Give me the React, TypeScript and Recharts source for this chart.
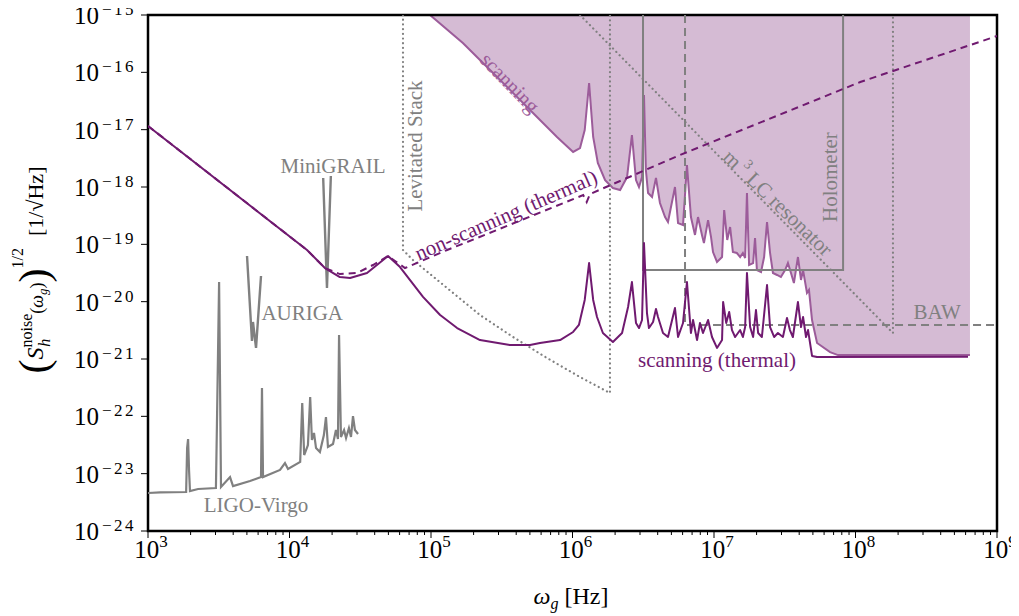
import React from 'react';
import { ComposedChart, Line, Area, XAxis, YAxis, ReferenceArea, ReferenceDot } from 'recharts';

const FONT = '"Liberation Serif", "DejaVu Serif", serif';
const GRAY = '#808080';
const DARK = '#701a70';
const SCAN = '#9c5c9a';
const SCAN_FILL = '#d5bbd4';

// [omega_g (Hz), strain noise (1/sqrt(Hz))]
const thermal = [
  [1e3, 1.16e-17], [1.33e4, 7.96e-20], [1.78e4, 3.86e-20], [2.27e4, 2.69e-20],
  [2.68e4, 2.59e-20], [3.53e4, 3.16e-20], [4.97e4, 6.25e-20], [6.04e4, 4.02e-20], [8.78e4, 1.21e-20],
  [1.16e5, 5.85e-21], [1.53e5, 3.47e-21], [2.22e5, 2.14e-21], [3.61e5, 1.75e-21], [5.01e5, 1.75e-21],
  [5.89e5, 1.9e-21], [8.17e5, 2.14e-21], [1.01e6, 2.96e-21], [1.11e6, 3.92e-21], [1.22e6, 1.07e-20],
  [1.31e6, 4.72e-20], [1.4e6, 1.07e-20], [1.49e6, 5.4e-21], [1.64e6, 2.84e-21], [1.93e6, 1.98e-21],
  [2.24e6, 2.84e-21], [2.47e6, 8.07e-21], [2.63e6, 2.2e-20], [2.81e6, 4.25e-21], [2.95e6, 3.47e-21],
  [3.1e6, 4.79e-21], [3.2e6, 1.05e-19], [3.36e6, 6.34e-21], [3.47e6, 3.47e-21], [3.71e6, 4.42e-21],
  [3.89e6, 7.45e-21], [4.02e6, 5.4e-21], [4.36e6, 2.84e-21], [4.73e6, 2.42e-21], [5.3e6, 7.75e-21],
  [5.57e6, 2.42e-21], [6.04e6, 4.25e-21], [6.44e6, 2.2e-20], [6.87e6, 2.84e-21], [7.11e6, 4.79e-21],
  [7.59e6, 2.14e-21], [7.96e6, 4.25e-21], [8.36e6, 2.84e-21], [9.08e6, 4.79e-21], [9.68e6, 2.42e-21],
  [1.05e7, 1.56e-21], [1.14e7, 2.14e-21], [1.16e7, 9.86e-21], [1.22e7, 4.25e-21], [1.28e7, 6.6e-21],
  [1.34e7, 3.2e-21], [1.41e7, 2.42e-21], [1.53e7, 3.2e-21], [1.6e7, 2.42e-21], [1.66e7, 3.61e-21],
  [1.71e7, 3.16e-20], [1.8e7, 3.61e-21], [1.89e7, 2.42e-21], [1.98e7, 7.15e-21], [2.05e7, 2.84e-21],
  [2.18e7, 2.42e-21], [2.37e7, 1.95e-20], [2.49e7, 3.61e-21], [2.66e7, 2.42e-21], [2.83e7, 2.84e-21],
  [3.07e7, 2.42e-21], [3.28e7, 5.19e-21], [3.44e7, 3.2e-21], [3.61e7, 2.42e-21], [3.92e7, 9.86e-21],
  [4.12e7, 3.61e-21], [4.26e7, 5.4e-21], [4.47e7, 2.42e-21], [4.62e7, 3.2e-21], [4.93e7, 1.13e-21],
  [5.35e7, 1.08e-21], [6.24e8, 1.1e-21],
];

const nonScanning = [
  [1e3, 1.16e-17], [1.33e4, 7.96e-20], [1.78e4, 3.86e-20], [2.27e4, 3.03e-20],
  [3.0e4, 3.16e-20], [3.89e4, 4.36e-20], [4.97e4, 6.25e-20], [6.55e4, 3.86e-20], [1.3e5, 7.96e-20],
  [2.93e5, 1.78e-19], [1.19e6, 7.24e-19], [1.26e6, 5.47e-19], [1.33e6, 7.55e-19], [5.75e6, 3.61e-18],
  [1.08e8, 6.78e-17], [1e9, 4.3e-16],
];

const scanning = [
  [9.84e4, 1e-15], [1.68e5, 3.25e-16], [2.93e5, 8.3e-17], [5.01e5, 2.2e-17], [7.77e5, 7.45e-18],
  [1.01e6, 4.08e-18], [1.13e6, 4.79e-18], [1.22e6, 9.86e-18], [1.31e6, 6.52e-17], [1.4e6, 7.45e-18],
  [1.51e6, 2.62e-18], [1.7e6, 1.32e-18], [1.93e6, 9.6e-19], [2.17e6, 8.85e-19], [2.43e6, 1.49e-18],
  [2.63e6, 8.07e-18], [2.81e6, 1.32e-18], [2.95e6, 1.0e-18], [3.1e6, 1.49e-18], [3.2e6, 4.03e-17],
  [3.3e6, 1.98e-18], [3.42e6, 7.85e-19], [3.65e6, 6.68e-19], [3.89e6, 1.44e-18], [4.15e6, 5.26e-19],
  [4.51e6, 2.99e-19], [4.73e6, 2.45e-19], [5.3e6, 1.0e-18], [5.57e6, 2.35e-19], [6.04e6, 2.17e-19],
  [6.44e6, 2.42e-18], [6.87e6, 2.99e-19], [7.34e6, 1.46e-19], [7.71e6, 2.99e-19], [8.22e6, 1.46e-19],
  [8.49e6, 1.05e-19], [9.08e6, 2.65e-19], [9.53e6, 1.34e-19], [9.84e6, 7.34e-20], [1.05e7, 4.92e-20],
  [1.14e7, 6.01e-20], [1.18e7, 3.97e-19], [1.24e7, 1.19e-19], [1.3e7, 2.0e-19], [1.36e7, 7.34e-20],
  [1.45e7, 7.06e-20], [1.53e7, 6.01e-20], [1.6e7, 7.06e-20], [1.66e7, 5.77e-20], [1.71e7, 7.85e-19],
  [1.77e7, 4.36e-20], [1.89e7, 4.72e-20], [1.95e7, 1.29e-19], [2.01e7, 3.56e-20], [2.15e7, 3.29e-20],
  [2.26e7, 6.01e-20], [2.37e7, 2.45e-19], [2.49e7, 7.06e-20], [2.61e7, 3.16e-20], [2.79e7, 2.92e-20],
  [2.97e7, 2.69e-20], [3.18e7, 3.56e-20], [3.33e7, 4.72e-20], [3.5e7, 3.16e-20], [3.67e7, 2.11e-20],
  [3.92e7, 6.01e-20], [4.12e7, 2.39e-20], [4.26e7, 3.56e-20], [4.54e7, 1.42e-20], [4.69e7, 1.6e-20],
  [4.93e7, 4.79e-21], [5.35e7, 1.9e-21], [6.61e7, 1.32e-21], [7.52e7, 1.17e-21], [6.44e8, 1.17e-21],
];

const ligoVirgo = [
  [1e3, 4.6e-24], [1.22e3, 4.7e-24], [1.86e3, 4.79e-24], [1.89e3, 2.8e-23], [1.92e3, 4.02e-23],
  [1.95e3, 1.16e-23], [1.98e3, 4.98e-24], [2.26e3, 5.4e-24], [3.02e3, 5.61e-24], [3.07e3, 7.05e-23],
  [3.18e3, 2.2e-20], [3.28e3, 5.85e-24], [3.8e3, 8.73e-24], [3.99e3, 6.08e-24], [5.26e3, 7.44e-24],
  [6.29e3, 8.73e-24], [6.39e3, 3.12e-22], [6.5e3, 8.73e-24], [8.57e3, 1.16e-23], [9.29e3, 1.53e-23],
  [9.76e3, 1.21e-23], [1.19e4, 1.6e-23], [1.23e4, 1.71e-22], [1.27e4, 2.11e-23], [1.35e4, 3.16e-23],
  [1.4e4, 2.17e-22], [1.44e4, 3.86e-23], [1.49e4, 5.12e-23], [1.54e4, 2.8e-23], [1.64e4, 2.39e-23],
  [1.75e4, 4.72e-23], [1.81e4, 9.72e-23], [1.87e4, 2.92e-23], [2.03e4, 3.29e-23], [2.13e4, 5.77e-23],
  [2.2e4, 4.02e-23], [2.24e4, 2.62e-21], [2.31e4, 4.36e-23], [2.43e4, 5.77e-23], [2.51e4, 4.19e-23],
  [2.63e4, 6.25e-23], [2.72e4, 4.36e-23], [2.81e4, 1.01e-22], [2.9e4, 5.77e-23], [3.05e4, 4.91e-23],
];

const auriga = [[5.01e3, 6.25e-20], [5.43e3, 2.06e-21], [5.52e3, 4.42e-21], [5.8e3, 1.56e-21], [6.29e3, 2.8e-20]];
const miniGrail = [[1.73e4, 1.44e-18], [1.84e4, 1.73e-20], [1.96e4, 1.56e-18]];

const levitated = [
  [6.34e4, 1e-15], [6.34e4, 7.96e-20], [7.46e4, 5.33e-20], [1.3e5, 1.73e-20], [2.22e5, 5.85e-21],
  [3.8e5, 2.42e-21], [6.61e5, 1.04e-21], [1.13e6, 4.85e-22], [1.84e6, 2.55e-22], [1.84e6, 1e-15],
];
const lcResonator = [[1.13e6, 1e-15], [1.84e8, 2.84e-21], [1.84e8, 1e-15]];
const holometer = [[3.15e6, 1e-15], [3.15e6, 3.56e-20], [8.17e7, 3.56e-20], [8.17e7, 1e-15]];
const baw = [[6.24e6, 1e-15], [6.24e6, 3.92e-21], [1e9, 3.92e-21]];

const xExponents = [3, 4, 5, 6, 7, 8, 9];
const yExponents = [-24, -23, -22, -21, -20, -19, -18, -17, -16, -15];
const minorSteps = [2, 3, 4, 5, 6, 7, 8, 9];

const xTicks: number[] = [];
xExponents.forEach((e) => {
  xTicks.push(Math.pow(10, e));
  if (e < 9) minorSteps.forEach((m) => xTicks.push(m * Math.pow(10, e)));
});
const yTicks = yExponents.map((e) => Math.pow(10, e));

const notes = [
  { w: 2.03e4, s: 2.32e-18, text: 'MiniGRAIL', color: GRAY, angle: 0 },
  { w: 1.23e4, s: 6.34e-21, text: 'AURIGA', color: GRAY, angle: 0 },
  { w: 5.8e3, s: 2.84e-24, text: 'LIGO-Virgo', color: GRAY, angle: 0 },
  { w: 7.71e4, s: 5.19e-18, text: 'Levitated Stack', color: GRAY, angle: -90 },
  { w: 3.61e5, s: 6.52e-17, text: 'scanning', color: SCAN, angle: 46 },
  { w: 3.39e5, s: 3.24e-19, text: 'non-scanning (thermal)', color: DARK, angle: -23.5 },
  { w: 2.83e7, s: 5.26e-19, text: 'm3 LC resonator', color: GRAY, angle: 44 },
  { w: 6.61e7, s: 1.49e-18, text: 'Holometer', color: GRAY, angle: -90 },
  { w: 3.77e8, s: 6.59e-21, text: 'BAW', color: GRAY, angle: 0 },
  { w: 1.05e7, s: 9.6e-22, text: 'scanning (thermal)', color: DARK, angle: 0 },
];

const pts = (a: number[][]) => a.map(([w, s]) => ({ w, s }));

const XTick = (props: any) => {
  const { x, y, payload } = props;
  const v = payload.value;
  const e = Math.round(Math.log10(v));
  const major = Math.abs(v / Math.pow(10, e) - 1) < 1e-6;
  return (
    <g>
      <line x1={x} x2={x} y1={y} y2={y + (major ? 7 : 4)} stroke="#000" strokeWidth={1} />
      {major && (
        <text x={x + 3} y={y + 27} textAnchor="middle" fontSize={25} fontFamily={FONT} fill="#000">
          10<tspan dy={-11} fontSize={17}>{e}</tspan>
        </text>
      )}
    </g>
  );
};

const YTick = (props: any) => {
  const { x, y, payload } = props;
  const e = Math.round(Math.log10(payload.value));
  return (
    <g>
      <line x1={x - 7} x2={x} y1={y} y2={y} stroke="#000" strokeWidth={1} />
      <text x={x - 12} y={y + 9} textAnchor="end" fontSize={25} fontFamily={FONT} fill="#000">
        10<tspan dx={3} dy={-9} fontSize={17} letterSpacing={2.5}>{`\u2212${-e}`}</tspan>
      </text>
    </g>
  );
};

const noteShape = (n: any) => (p: any) => {
  const content = n.text === 'm3 LC resonator'
    ? [<tspan key="a">m</tspan>, <tspan key="b" dy={-8} fontSize={14}>{' 3'}</tspan>, <tspan key="c" dy={8}>{' LC resonator'}</tspan>]
    : n.text;
  return (
    <text
      x={p.cx}
      y={p.cy}
      textAnchor="middle"
      dominantBaseline="central"
      fontSize={21}
      fontFamily={FONT}
      fill={n.color}
      transform={`rotate(${n.angle} ${p.cx} ${p.cy})`}
    >
      {content}
    </text>
  );
};

const W = 1019;
const H = 616;

export default function App() {
  return (
    <div style={{ position: 'relative', width: W, height: H, margin: '-8px 0 0 -8px' }}>
      <ComposedChart width={W} height={H} margin={{ top: 15, right: 22, bottom: 0, left: 0 }}>
        <XAxis
          dataKey="w"
          type="number"
          scale="log"
          domain={[1e3, 1e9]}
          allowDataOverflow
          ticks={xTicks}
          interval={0}
          tick={<XTick />}
          tickLine={false}
          axisLine={false}
          tickSize={0}
          tickMargin={0}
          height={85}
        />
        <YAxis
          dataKey="s"
          type="number"
          scale="log"
          domain={[1e-24, 1e-15]}
          allowDataOverflow
          ticks={yTicks}
          interval={0}
          tick={<YTick />}
          tickLine={false}
          axisLine={false}
          tickSize={0}
          tickMargin={0}
          width={148}
        />
        <Area
          data={pts(scanning)}
          dataKey="s"
          type="linear"
          baseValue={1e-15}
          stroke={SCAN}
          strokeWidth={2}
          fill={SCAN_FILL}
          fillOpacity={1}
          dot={false}
          activeDot={false}
          isAnimationActive={false}
        />
        <Line data={pts(holometer)} dataKey="s" type="linear" stroke={GRAY} strokeWidth={2} dot={false} activeDot={false} isAnimationActive={false} />
        <Line data={pts(baw)} dataKey="s" type="linear" stroke={GRAY} strokeWidth={2} strokeDasharray="8 5" dot={false} activeDot={false} isAnimationActive={false} />
        <Line data={pts(lcResonator)} dataKey="s" type="linear" stroke={GRAY} strokeWidth={2.2} strokeDasharray="0.1 4.6" strokeLinecap="round" dot={false} activeDot={false} isAnimationActive={false} />
        <Line data={pts(levitated)} dataKey="s" type="linear" stroke={GRAY} strokeWidth={2.2} strokeDasharray="0.1 4.6" strokeLinecap="round" dot={false} activeDot={false} isAnimationActive={false} />
        <Line data={pts(ligoVirgo)} dataKey="s" type="linear" stroke={GRAY} strokeWidth={2.2} dot={false} activeDot={false} isAnimationActive={false} />
        <Line data={pts(auriga)} dataKey="s" type="linear" stroke={GRAY} strokeWidth={2.4} dot={false} activeDot={false} isAnimationActive={false} />
        <Line data={pts(miniGrail)} dataKey="s" type="linear" stroke={GRAY} strokeWidth={2.4} dot={false} activeDot={false} isAnimationActive={false} />
        <Line data={pts(thermal)} dataKey="s" type="linear" stroke={DARK} strokeWidth={2} strokeLinejoin="round" dot={false} activeDot={false} isAnimationActive={false} />
        <Line data={pts(nonScanning)} dataKey="s" type="linear" stroke={DARK} strokeWidth={2} strokeDasharray="7 5" dot={false} activeDot={false} isAnimationActive={false} />
        {notes.map((n) => (
          <ReferenceDot key={n.text} x={n.w} y={n.s} r={1} ifOverflow="visible" shape={noteShape(n)} />
        ))}
        <ReferenceArea x1={1e3} x2={1e9} y1={1e-24} y2={1e-15} ifOverflow="visible" fill="none" fillOpacity={0} stroke="#000" strokeWidth={2.5} />
      </ComposedChart>
      <svg width={W} height={H} style={{ position: 'absolute', left: 0, top: 0, pointerEvents: 'none' }}>
        <text x={571} y={604} textAnchor="middle" fontSize={24} fontFamily={FONT} fill="#000">
          <tspan fontStyle="italic">ω</tspan>
          <tspan fontStyle="italic" fontSize={16} dy={5}>g</tspan>
          <tspan dy={-5}>{' [Hz]'}</tspan>
        </text>
        <g transform="translate(43,270) rotate(-90)">
          <text x={0} y={0} textAnchor="middle" fontSize={24} fontFamily={FONT} fill="#000">
            <tspan fontSize={42} dy={5}>(</tspan>
            <tspan fontStyle="italic" dy={-5}>S</tspan>
            <tspan fontSize={16} dy={-11}>noise</tspan>
            <tspan fontStyle="italic" fontSize={16} dx={-33} dy={18}>h</tspan>
            <tspan fontSize={18} dx={25} dy={-7}>(</tspan>
            <tspan fontStyle="italic" fontSize={18}>ω</tspan>
            <tspan fontStyle="italic" fontSize={13} dy={4}>g</tspan>
            <tspan fontSize={18} dy={-4}>)</tspan>
            <tspan fontSize={42} dy={5}>)</tspan>
            <tspan fontSize={16} dy={-25}>1/2</tspan>
            <tspan fontSize={22} dx={12} dy={20}>[1/√Hz]</tspan>
          </text>
        </g>
      </svg>
    </div>
  );
}
